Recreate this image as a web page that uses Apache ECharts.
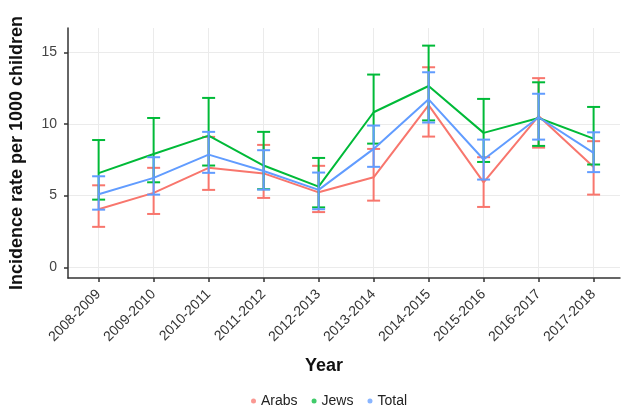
<!DOCTYPE html>
<html>
<head>
<meta charset="utf-8">
<script src="https://cdn.jsdelivr.net/npm/echarts@6/dist/echarts.min.js"></script>
<style>html,body{margin:0;padding:0;background:#fff;}#c{width:623px;height:407px;}</style>
</head>
<body>
<div id="c"></div>
<script>
const years = ['2008-2009','2009-2010','2010-2011','2011-2012','2012-2013','2013-2014','2014-2015','2015-2016','2016-2017','2017-2018'];
const yTicks = [0, 5, 10, 15];

const arabsRate  = [4.05, 5.19, 6.94, 6.55, 5.23, 6.28, 11.32, 5.93, 10.55, 7.0];
const arabsLow   = [2.82, 3.72, 5.40, 4.84, 3.85, 4.65, 9.12, 4.21, 8.35, 5.07];
const arabsHigh  = [5.72, 6.94, 9.10, 8.54, 7.08, 8.26, 13.96, 7.68, 13.20, 8.80];

const jewsRate   = [6.57, 7.91, 9.19, 7.10, 5.63, 10.82, 12.65, 9.38, 10.42, 8.98];
const jewsLow    = [4.72, 5.93, 7.10, 5.45, 4.18, 8.63, 10.25, 7.35, 8.47, 7.17];
const jewsHigh   = [8.88, 10.42, 11.82, 9.45, 7.63, 13.45, 15.47, 11.75, 12.91, 11.19];

const totalRate  = [5.10, 6.24, 7.86, 6.72, 5.40, 8.26, 11.72, 7.52, 10.47, 7.98];
const totalLow   = [4.02, 5.07, 6.59, 5.42, 4.05, 7.01, 10.10, 6.12, 8.91, 6.64];
const totalHigh  = [6.35, 7.68, 9.45, 8.17, 6.61, 9.89, 13.61, 8.91, 12.11, 9.42];

const groups = [
  {name: 'Arabs', color: '#F8766D', rate: arabsRate, low: arabsLow, high: arabsHigh},
  {name: 'Jews',  color: '#00BA38', rate: jewsRate,  low: jewsLow,  high: jewsHigh},
  {name: 'Total', color: '#619CFF', rate: totalRate, low: totalLow, high: totalHigh}
];
const xIdx = years.map((y, i) => i);

const chart = echarts.init(document.getElementById('c'));
const series = [];
groups.forEach((g, gi) => {
  series.push({
    name: g.name, type: 'line', data: g.rate.map((v, i) => [i, v]), symbol: 'none',
    lineStyle: {color: g.color, width: 2}, itemStyle: {color: g.color},
    z: 2 + gi * 2, silent: true
  });
  series.push({
    name: g.name, type: 'custom', z: 3 + gi * 2, silent: true,
    itemStyle: {color: g.color},
    data: years.map((y, i) => [i, g.low[i], g.high[i]]),
    encode: {x: 0, y: [1, 2]},
    renderItem: function (params, api) {
      const x = api.value(0);
      const lo = api.coord([x, api.value(1)]);
      const hi = api.coord([x, api.value(2)]);
      const hw = 6.5;
      const st = {stroke: g.color, lineWidth: 2, fill: null};
      return {
        type: 'group',
        children: [
          {type: 'line', shape: {x1: lo[0], y1: lo[1], x2: hi[0], y2: hi[1]}, style: st},
          {type: 'line', shape: {x1: lo[0] - hw, y1: lo[1], x2: lo[0] + hw, y2: lo[1]}, style: st},
          {type: 'line', shape: {x1: hi[0] - hw, y1: hi[1], x2: hi[0] + hw, y2: hi[1]}, style: st}
        ]
      };
    }
  });
});

chart.setOption({
  animation: false,
  backgroundColor: '#ffffff',
  textStyle: {fontFamily: 'Liberation Sans, Arial, sans-serif'},
  grid: {left: 62, right: 3, top: 28, bottom: 129},
  legend: {
    data: groups.map(g => ({name: g.name, icon: 'circle', itemStyle: {opacity: 0.75}})),
    left: 246, top: 389, itemWidth: 5, itemHeight: 5, itemGap: 14,
    textStyle: {fontSize: 14, color: '#222'}
  },
  xAxis: {
    type: 'value', min: -0.557, max: 9.48,
    name: 'Year', nameLocation: 'middle', nameGap: 79,
    nameTextStyle: {fontSize: 18, fontWeight: 'bold', color: '#111', padding: [0, 40, 0, 0]},
    axisLine: {onZero: false, lineStyle: {color: '#333', width: 1.5}},
    axisTick: {show: true, length: 4, customValues: xIdx, lineStyle: {color: '#333', width: 1.5}},
    axisLabel: {rotate: 45, fontSize: 14, color: '#333', margin: 14, customValues: xIdx,
      formatter: v => years[v]},
    splitLine: {show: true, lineStyle: {color: '#EBEBEB', width: 1}}
  },
  yAxis: {
    type: 'value', min: -0.75, max: 16.7,
    name: 'Incidence rate per 1000 children', nameLocation: 'middle', nameGap: 42,
    nameTextStyle: {fontSize: 18, fontWeight: 'bold', color: '#111'},
    axisLine: {show: true, onZero: false, lineStyle: {color: '#333', width: 1.5}},
    axisTick: {show: true, length: 4, customValues: yTicks, lineStyle: {color: '#333', width: 1.5}},
    axisLabel: {fontSize: 14, color: '#444', margin: 11, customValues: yTicks},
    splitLine: {show: true, lineStyle: {color: '#EBEBEB', width: 1}}
  },
  series: series
});
</script>
</body>
</html>
